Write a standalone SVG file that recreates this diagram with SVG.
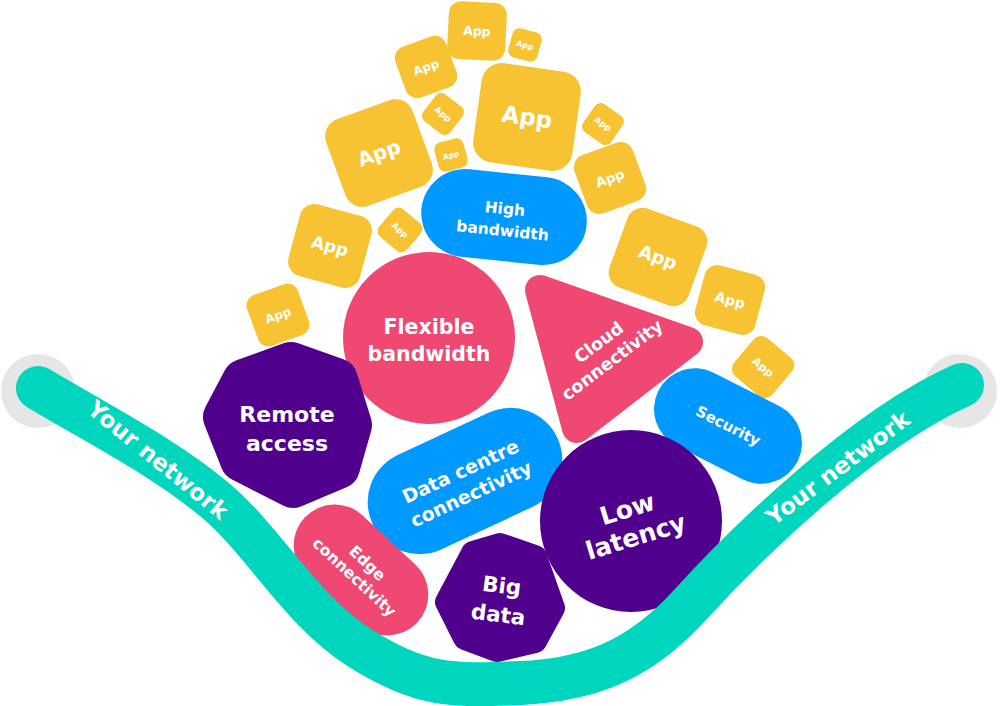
<svg xmlns="http://www.w3.org/2000/svg" width="1000" height="706" viewBox="0 0 1000 706">
<style>
.app{fill:#F8C332}
.blue{fill:#0099FF}
.pink{fill:#EF4872}
.purple{fill:#4F008C}
.t{fill:#FFFFFF;font-family:"DejaVu Sans","Open Sans",sans-serif;font-weight:700;text-anchor:middle}
</style>
<rect width="1000" height="706" fill="#FFFFFF"/>
<g id="caps">
<circle cx="38" cy="391" r="37" fill="#E6E6E6"/>
<circle cx="960" cy="391" r="37" fill="#E6E6E6"/>
</g>
<g id="apps">
<g id="app1" transform="translate(477,31) rotate(3)"><rect x="-29" y="-29" width="58" height="58" rx="12" class="app"/><text class="t" font-size="12.5" y="4.5">App</text></g>
<g id="app2" transform="translate(525,45) rotate(15)"><rect x="-15" y="-15" width="30" height="30" rx="7" class="app"/><text class="t" font-size="8" y="3">App</text></g>
<g id="app3" transform="translate(426,67) rotate(-20)"><rect x="-27" y="-27" width="54" height="54" rx="12" class="app"/><text class="t" font-size="12" y="4.5">App</text></g>
<g id="app4" transform="translate(527,117) rotate(8)"><rect x="-50" y="-50" width="100" height="100" rx="20" class="app"/><text class="t" font-size="23" y="8">App</text></g>
<g id="app5" transform="translate(443,114) rotate(38)"><rect x="-17" y="-17" width="34" height="34" rx="7" class="app"/><text class="t" font-size="8.5" y="3">App</text></g>
<g id="app6" transform="translate(451,155) rotate(-15)"><rect x="-15" y="-15" width="30" height="30" rx="7" class="app"/><text class="t" font-size="7.5" y="3">App</text></g>
<g id="app7" transform="translate(379,153) rotate(-20)"><rect x="-46" y="-46" width="92" height="92" rx="18" class="app"/><text class="t" font-size="20" y="7">App</text></g>
<g id="app8" transform="translate(603,124) rotate(35)"><rect x="-17" y="-17" width="34" height="34" rx="7" class="app"/><text class="t" font-size="8.5" y="3">App</text></g>
<g id="app9" transform="translate(610,178) rotate(-20)"><rect x="-31" y="-31" width="62" height="62" rx="13" class="app"/><text class="t" font-size="13.5" y="5">App</text></g>
<g id="app10" transform="translate(658,257) rotate(20)"><rect x="-42" y="-42" width="84" height="84" rx="16" class="app"/><text class="t" font-size="18" y="6.5">App</text></g>
<g id="app11" transform="translate(730,300) rotate(15)"><rect x="-31" y="-31" width="62" height="62" rx="13" class="app"/><text class="t" font-size="14" y="5">App</text></g>
<g id="app12" transform="translate(763,367) rotate(40)"><rect x="-25" y="-25" width="50" height="50" rx="10" class="app"/><text class="t" font-size="11" y="4">App</text></g>
<g id="app13" transform="translate(330,246) rotate(15)"><rect x="-37" y="-37" width="74" height="74" rx="15" class="app"/><text class="t" font-size="17" y="6">App</text></g>
<g id="app14" transform="translate(400,230) rotate(40)"><rect x="-18" y="-18" width="36" height="36" rx="7" class="app"/><text class="t" font-size="8.5" y="3">App</text></g>
<g id="app15" transform="translate(278,315) rotate(-20)"><rect x="-27" y="-27" width="54" height="54" rx="11" class="app"/><text class="t" font-size="12" y="4.5">App</text></g>
</g>
<g id="high-bandwidth" transform="translate(504,217) rotate(6)">
<rect x="-83" y="-44" width="166" height="88" rx="44" class="blue"/>
<text class="t" font-size="15.5" y="-3">High</text>
<text class="t" font-size="15.5" y="19">bandwidth</text>
</g>
<g id="flexible-bandwidth">
<circle cx="429" cy="338" r="86" class="pink"/>
<text class="t" font-size="20.5" x="429" y="334">Flexible</text>
<text class="t" font-size="20.5" x="429" y="361">bandwidth</text>
</g>
<g id="cloud-connectivity">
<polygon points="540,290 688,342 577,428" class="pink" stroke="#EF4872" stroke-width="30" stroke-linejoin="round"/>
<g transform="translate(606,352) rotate(-37)">
<text class="t" font-size="17.5" y="-6">Cloud</text>
<text class="t" font-size="17.5" y="16">connectivity</text>
</g>
</g>
<g id="remote-access">
<polygon points="291,364 336,380 350,425 338,467 293,486 242,460 225,417 244,381" class="purple" stroke="#4F008C" stroke-width="44" stroke-linejoin="round"/>
<text class="t" font-size="22" x="287" y="422">Remote</text>
<text class="t" font-size="22" x="287" y="451">access</text>
</g>
<g id="security" transform="translate(728,426) rotate(27)">
<rect x="-78" y="-41" width="156" height="82" rx="41" class="blue"/>
<text class="t" font-size="15" y="5">Security</text>
</g>
<g id="data-centre" transform="translate(465,481) rotate(-25)">
<rect x="-102" y="-52" width="204" height="104" rx="52" class="blue"/>
<text class="t" font-size="19" y="-4">Data centre</text>
<text class="t" font-size="19" y="21">connectivity</text>
</g>
<g id="edge-connectivity" transform="translate(361,570) rotate(43)">
<rect x="-77" y="-41" width="154" height="82" rx="41" class="pink"/>
<text class="t" font-size="15.5" y="-4">Edge</text>
<text class="t" font-size="15.5" y="15">connectivity</text>
</g>
<g id="big-data">
<polygon points="473,553 500,545 535,557 553,608 535,641 497,650 465,638 447,602" class="purple" stroke="#4F008C" stroke-width="24" stroke-linejoin="round"/>
<g transform="translate(500,600) rotate(7)">
<text class="t" font-size="21.5" y="-7">Big</text>
<text class="t" font-size="21.5" y="22">data</text>
</g>
</g>
<g id="low-latency">
<circle cx="631" cy="521" r="91" class="purple"/>
<g transform="translate(631,521) rotate(-17)">
<text class="t" font-size="25" y="-4">Low</text>
<text class="t" font-size="25" y="25">latency</text>
</g>
</g>
<g id="network">
<path d="M38,388 C100,425 165,458 215,500 S300,610 360,648 S450,686 520,683 S640,660 690,605 S860,430 962,385" fill="none" stroke="#00D6BE" stroke-width="44" stroke-linecap="round"/>
<text class="t" font-size="23" transform="translate(158,460) rotate(39)" y="8">Your network</text>
<text class="t" font-size="23" transform="translate(838,468) rotate(-37)" y="8">Your network</text>
</g>
</svg>
